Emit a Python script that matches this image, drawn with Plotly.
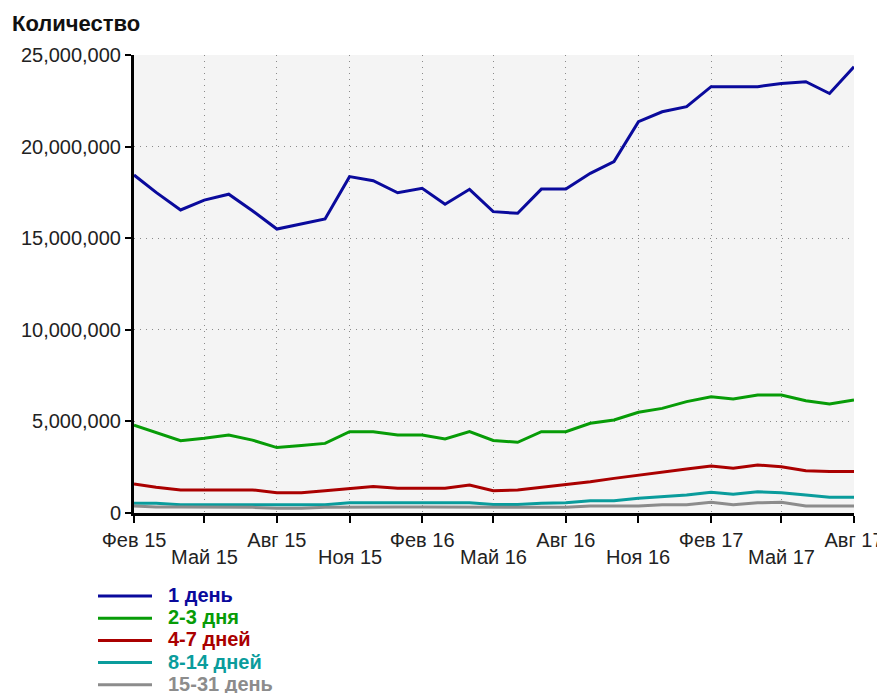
import pandas as pd
import plotly.graph_objects as go

# monthly points, Feb 2015 .. Aug 2017
months = pd.date_range("2015-02-01", "2017-08-01", freq="MS")

series_names = ["1 день", "2-3 дня", "4-7 дней", "8-14 дней", "15-31 день"]
series_colors = ["#0a0a9c", "#079c07", "#aa0000", "#0a9c9c", "#8c8c8c"]

day_1 = [18.45, 17.5, 16.54, 17.08, 17.4, 16.5, 15.5, 15.8, 16.05, 18.36, 18.14,
         17.48, 17.72, 16.85, 17.67, 16.45, 16.36, 17.68, 17.68, 18.54, 19.18,
         21.36, 21.9, 22.18, 23.27, 23.27, 23.27, 23.45, 23.54, 22.9, 24.36]
days_2_3 = [4.8, 4.38, 3.95, 4.08, 4.26, 3.98, 3.57, 3.68, 3.8, 4.44, 4.44,
            4.26, 4.26, 4.04, 4.44, 3.96, 3.86, 4.44, 4.44, 4.9, 5.08,
            5.5, 5.71, 6.08, 6.35, 6.22, 6.44, 6.44, 6.13, 5.95, 6.17]
days_4_7 = [1.58, 1.4, 1.26, 1.26, 1.26, 1.26, 1.11, 1.11, 1.22, 1.35, 1.44,
            1.35, 1.35, 1.35, 1.53, 1.22, 1.26, 1.4, 1.53, 1.71, 1.89,
            2.07, 2.26, 2.4, 2.57, 2.44, 2.62, 2.53, 2.31, 2.26, 2.26]
days_8_14 = [0.53, 0.53, 0.45, 0.45, 0.45, 0.45, 0.45, 0.45, 0.45, 0.56, 0.56,
             0.56, 0.56, 0.56, 0.56, 0.47, 0.47, 0.53, 0.56, 0.67, 0.67,
             0.8, 0.89, 0.98, 1.13, 1.02, 1.16, 1.11, 0.98, 0.86, 0.86]
days_15_31 = [0.38, 0.33, 0.33, 0.33, 0.33, 0.31, 0.26, 0.26, 0.31, 0.33, 0.33,
              0.33, 0.33, 0.33, 0.33, 0.31, 0.31, 0.31, 0.31, 0.38, 0.38,
              0.38, 0.45, 0.45, 0.58, 0.45, 0.56, 0.58, 0.38, 0.38, 0.38]

all_series = [day_1, days_2_3, days_4_7, days_8_14, days_15_31]

tick_dates = pd.date_range("2015-02-01", "2017-08-01", freq="3MS")
tick_labels = ["Фев 15", "Май 15", "Авг 15", "Ноя 15", "Фев 16", "Май 16",
               "Авг 16", "Ноя 16", "Фев 17", "Май 17", "Авг 17"]
# every other label goes on a second row (drawn as annotations below)
tick_text = [t if i % 2 == 0 else "" for i, t in enumerate(tick_labels)]

y_ticks = [0, 5e6, 10e6, 15e6, 20e6, 25e6]

FONT = "Liberation Sans, Arial, sans-serif"

# plot area on screen: x 134..854, y 55..513 (page body adds an 8px offset)
PW, PH = 720, 458


def px_x(x):
    return (x - 134) / PW


def px_y(y):
    return (513 - y) / PH


fig = go.Figure()

for name, color, vals in zip(series_names, series_colors, all_series):
    fig.add_trace(go.Scatter(
        x=months,
        y=[v * 1e6 for v in vals],
        mode="lines",
        name=name,
        line=dict(color=color, width=3),
        showlegend=False,
    ))

# second row of staggered month labels
for d, t in zip(tick_dates[1::2], tick_labels[1::2]):
    fig.add_annotation(xref="x", yref="paper", x=d, y=px_y(557),
                       text=t, showarrow=False,
                       xanchor="center", yanchor="middle",
                       font=dict(size=20, color="#222", family=FONT))

# hand-drawn legend under the chart
for i, (name, color) in enumerate(zip(series_names, series_colors)):
    row_y = 596 + i * 22.2
    fig.add_shape(type="line", xref="paper", yref="paper",
                  x0=px_x(98), x1=px_x(152), y0=px_y(row_y), y1=px_y(row_y),
                  line=dict(color=color, width=3))
    fig.add_annotation(xref="paper", yref="paper",
                       x=px_x(166), y=px_y(row_y - 1),
                       text=f"<b>{name}</b>", showarrow=False,
                       xanchor="left", yanchor="middle",
                       font=dict(color=color, size=20, family=FONT))

fig.add_annotation(xref="paper", yref="paper", x=px_x(10), y=px_y(23),
                   text="<b>Количество</b>", showarrow=False,
                   xanchor="left", yanchor="middle",
                   font=dict(size=22, color="#111", family=FONT))

axis_common = dict(
    showgrid=True,
    gridcolor="#8a8a8a",
    griddash="1px,5px",
    gridwidth=1,
    showline=True,
    linecolor="black",
    linewidth=3,
    ticks="outside",
    tickwidth=2,
    tickcolor="black",
    zeroline=False,
    automargin=False,
)

fig.update_layout(
    width=877,
    height=685,
    margin=dict(l=126, r=31, t=47, b=180),
    paper_bgcolor="white",
    plot_bgcolor="#f4f4f4",
    font=dict(family=FONT, size=20, color="#222"),
    showlegend=False,
    xaxis=dict(
        range=[months[0], months[-1]],
        tickvals=tick_dates,
        ticktext=tick_text,
        ticklen=7,
        **axis_common,
    ),
    yaxis=dict(
        range=[0, 25e6],
        tickvals=y_ticks,
        tickformat=",d",
        ticklen=6,
        **axis_common,
    ),
)

fig.write_html("out.html")
